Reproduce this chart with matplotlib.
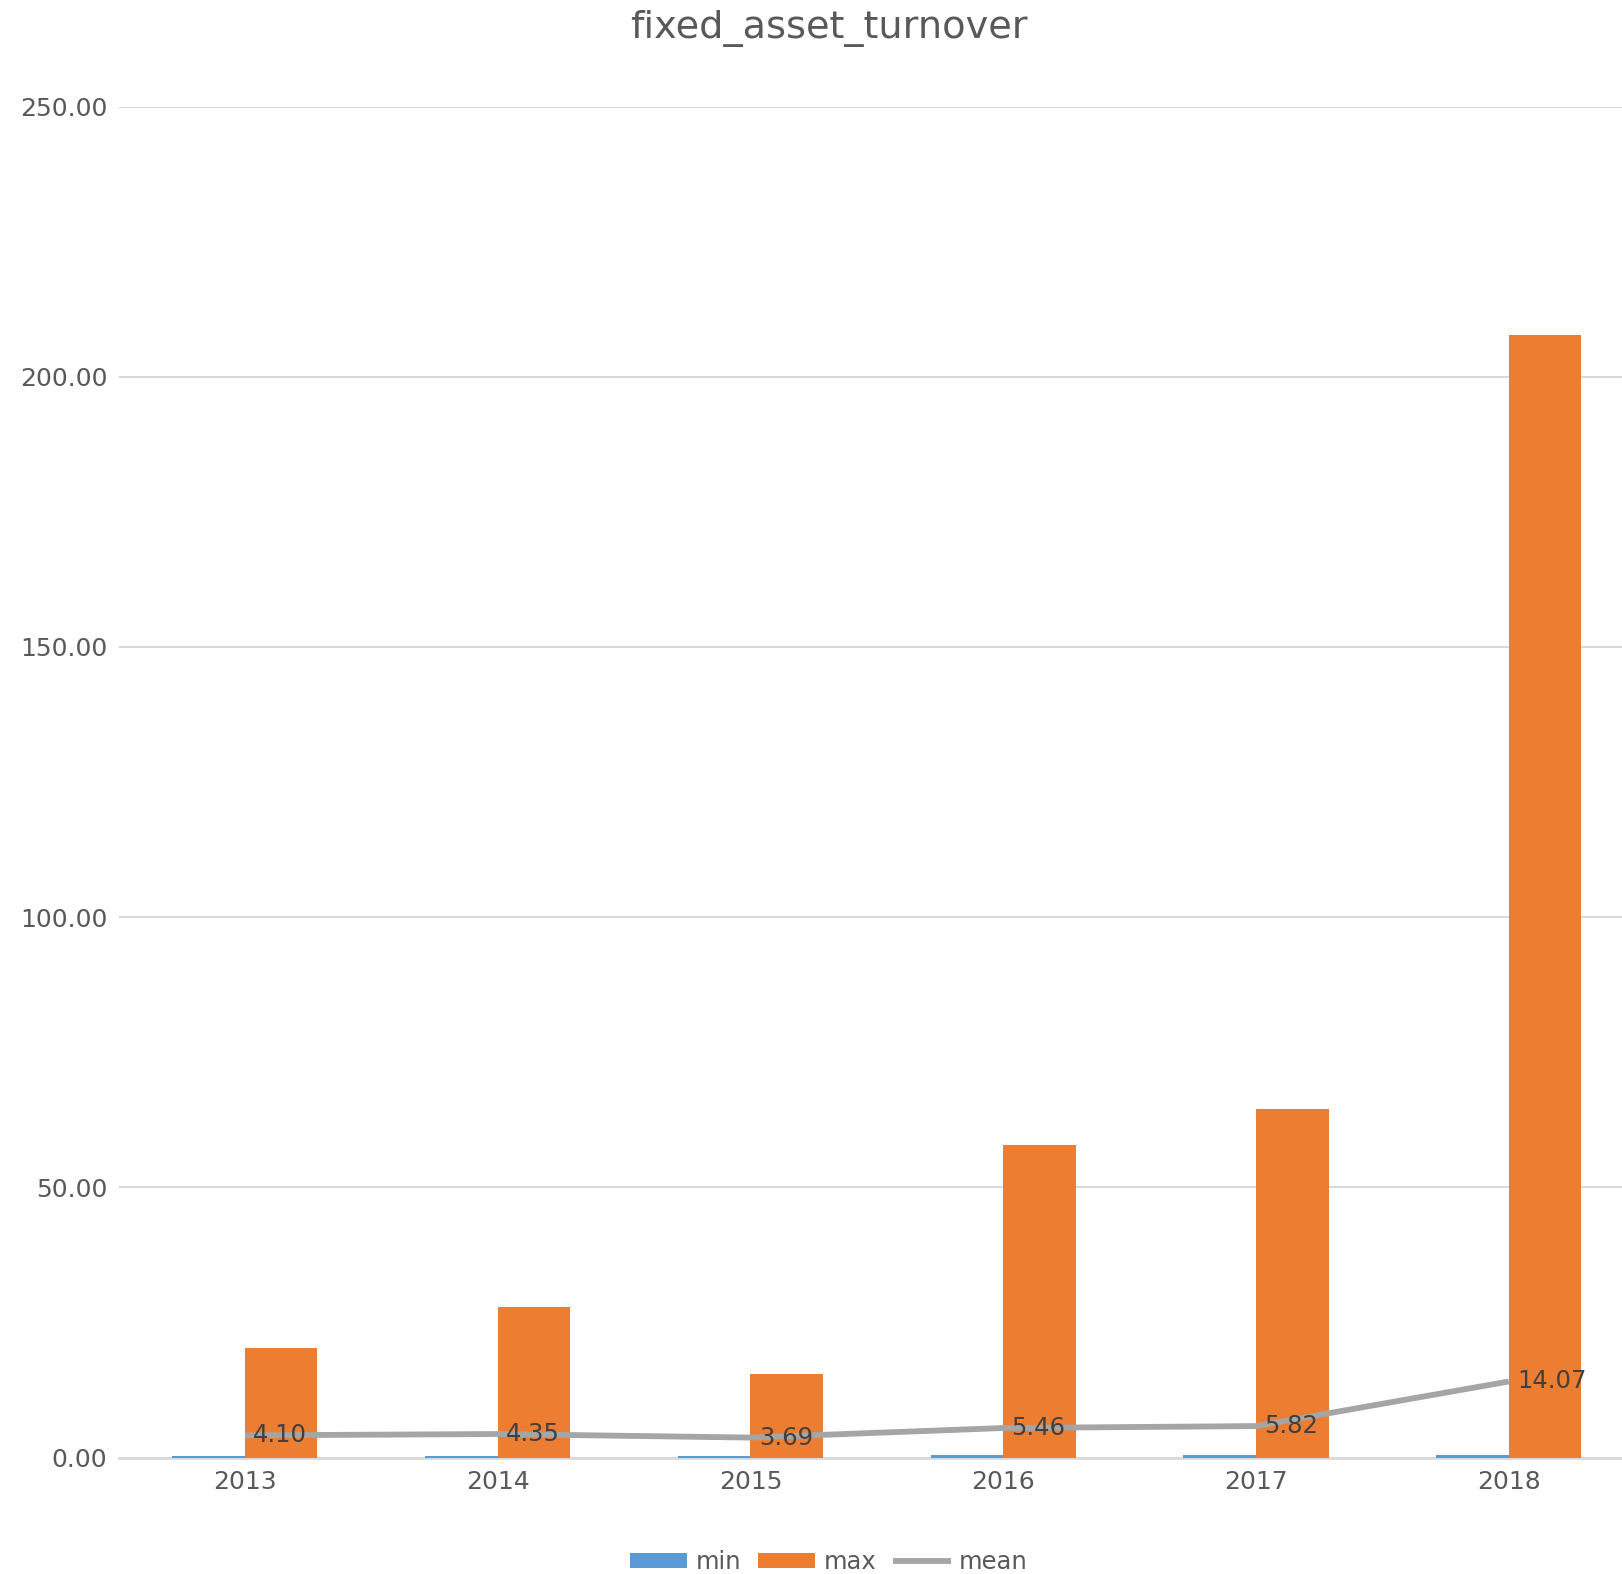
import numpy as np
import matplotlib
matplotlib.use("Agg")
import matplotlib.pyplot as plt

years = ["2013", "2014", "2015", "2016", "2017", "2018"]
min_vals = [0.25, 0.2, 0.2, 0.45, 0.5, 0.5]
max_vals = [20.3, 27.8, 15.5, 57.8, 64.5, 207.7]
mean_vals = [4.10, 4.35, 3.69, 5.46, 5.82, 14.07]

plt.rcParams['font.family'] = ['DejaVu Sans']

fig = plt.figure(figsize=(16.22, 15.74), dpi=100)
ax = fig.add_axes([0.0731, 0.074, 0.935, 0.8583])

x = np.arange(len(years))
w = 0.287
b_min = ax.bar(x - w / 2, min_vals, w, color="#5B9BD5", label="min", zorder=3)
b_max = ax.bar(x + w / 2, max_vals, w, color="#ED7D31", label="max", zorder=3)
l_mean, = ax.plot(x, mean_vals, color="#A5A5A5", lw=4.2, label="mean", zorder=4,
                  solid_capstyle="butt")

for xi, v in zip(x, mean_vals):
    ax.annotate(f"{v:.2f}", (xi, v), xytext=(6, 0), textcoords="offset points",
                ha="left", va="center", fontsize=17.5, color="#404040", zorder=5)

ax.set_xlim(-0.5, len(years) - 0.5)
ax.set_ylim(0, 250)
ax.set_yticks(np.arange(0, 251, 50))
ax.set_yticklabels([f"{t:.2f}" for t in np.arange(0, 251, 50)])
ax.set_xticks(x)
ax.set_xticklabels(years)
ax.tick_params(axis="both", length=0, labelsize=18, labelcolor="#595959")
ax.tick_params(axis="x", pad=9)
ax.tick_params(axis="y", pad=8)
ax.grid(axis="y", color="#D9D9D9", lw=1.5, zorder=0)
for s in ["top", "right", "left"]:
    ax.spines[s].set_visible(False)
ax.spines["bottom"].set_color("#D9D9D9")
ax.spines["bottom"].set_linewidth(2)
ax.spines["bottom"].set_zorder(2)

fig.text(0.511, 0.982, "fixed_asset_turnover", ha="center", va="center",
         fontsize=27.5, color="#595959")

fig.legend([b_min, b_max, l_mean], ["min", "max", "mean"],
           loc="lower center", bbox_to_anchor=(0.511, -0.014), ncol=3,
           frameon=False, fontsize=17.5, labelcolor="#595959",
           handlelength=2.35, handleheight=0.55, handletextpad=0.35,
           columnspacing=0.7)

fig.savefig("out.png", dpi=100)
